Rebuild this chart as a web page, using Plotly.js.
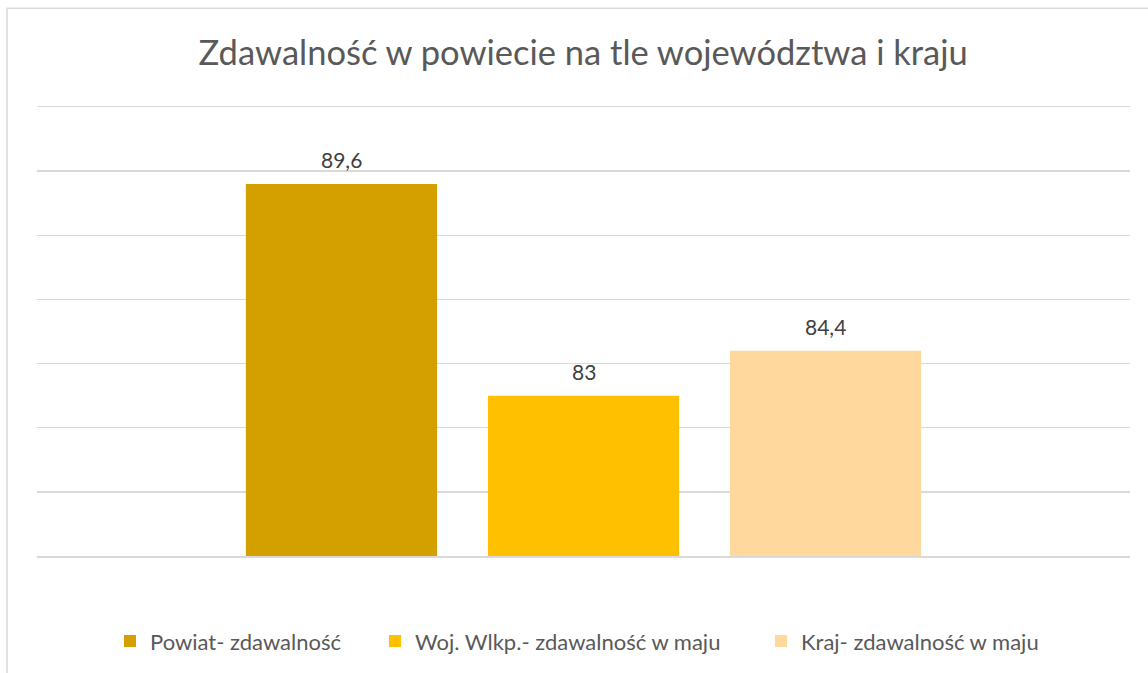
<!DOCTYPE html>
<html>
<head>
<meta charset="utf-8">
<script src="https://cdn.plot.ly/plotly-3.0.1.min.js"></script>
<style>html,body{margin:0;padding:0;background:#fff;}#chart{width:1148px;height:673px;}</style>
</head>
<body>
<div id="chart"></div>
<script>
const seriesNames = ["Powiat- zdawalność", "Woj. Wlkp.- zdawalność w maju", "Kraj- zdawalność w maju"];
const seriesValues = [89.6, 83, 84.4];
const seriesLabels = ["89,6", "83", "84,4"];
const seriesColors = ["#D4A000", "#FFC000", "#FFD89D"];
const slotIndex = [0, 1, 2];

const FONT = "Lato, 'Open Sans', sans-serif";
const legendIds = ["legend", "legend2", "legend3"];
const legendX = [(150 - 40 - 37) / 1093, (415 - 40 - 37) / 1093, (801 - 40 - 37) / 1093];

const traces = seriesNames.map((name, i) => ({
  type: "bar",
  name: name,
  x: [slotIndex[i]],
  y: [seriesValues[i]],
  width: 0.79,
  marker: {color: seriesColors[i]},
  legend: legendIds[i],
  hoverinfo: "skip"
}));

const annotations = seriesLabels.map((t, i) => ({
  x: slotIndex[i], y: seriesValues[i], xref: "x", yref: "y",
  text: t, showarrow: false, yanchor: "middle", yshift: 24,
  font: {family: FONT, size: 21, color: "#404040"}
}));

const layout = {
  width: 1148, height: 673,
  margin: {l: 37, r: 18, t: 107, b: 116},
  paper_bgcolor: "#fff", plot_bgcolor: "#fff",
  barmode: "overlay",
  title: {text: "Zdawalność w powiecie na tle województwa i kraju",
          font: {family: FONT, size: 34.5, color: "#595959"},
          x: 0.508, xanchor: "center", y: 0.922, yanchor: "middle"},
  xaxis: {range: [-1.258, 3.258], showticklabels: false, showgrid: false, zeroline: false, ticks: "",
          showline: true, mirror: true, linecolor: "#D9D9D9", linewidth: 1.5, fixedrange: true},
  yaxis: {range: [78, 92], dtick: 2, showticklabels: false, showgrid: true, gridcolor: "#D9D9D9", gridwidth: 1.5,
          zeroline: false, ticks: "", showline: false, fixedrange: true},
  showlegend: true,
  annotations: annotations,
  shapes: [{type: "rect", xref: "paper", yref: "paper", x0: -0.0274, x1: 1.2, y0: -0.5, y1: 1.22,
            line: {color: "#D9D9D9", width: 1.5}, fillcolor: "rgba(0,0,0,0)", layer: "below"}]
};
legendIds.forEach((id, i) => {
  layout[id] = {orientation: "h", x: legendX[i], xanchor: "left", y: -0.187, yanchor: "middle",
                bgcolor: "rgba(0,0,0,0)",
                font: {family: FONT, size: 22, color: "#595959"}};
});

Plotly.newPlot("chart", traces, layout, {displayModeBar: false, staticPlot: true});
</script>
</body>
</html>
